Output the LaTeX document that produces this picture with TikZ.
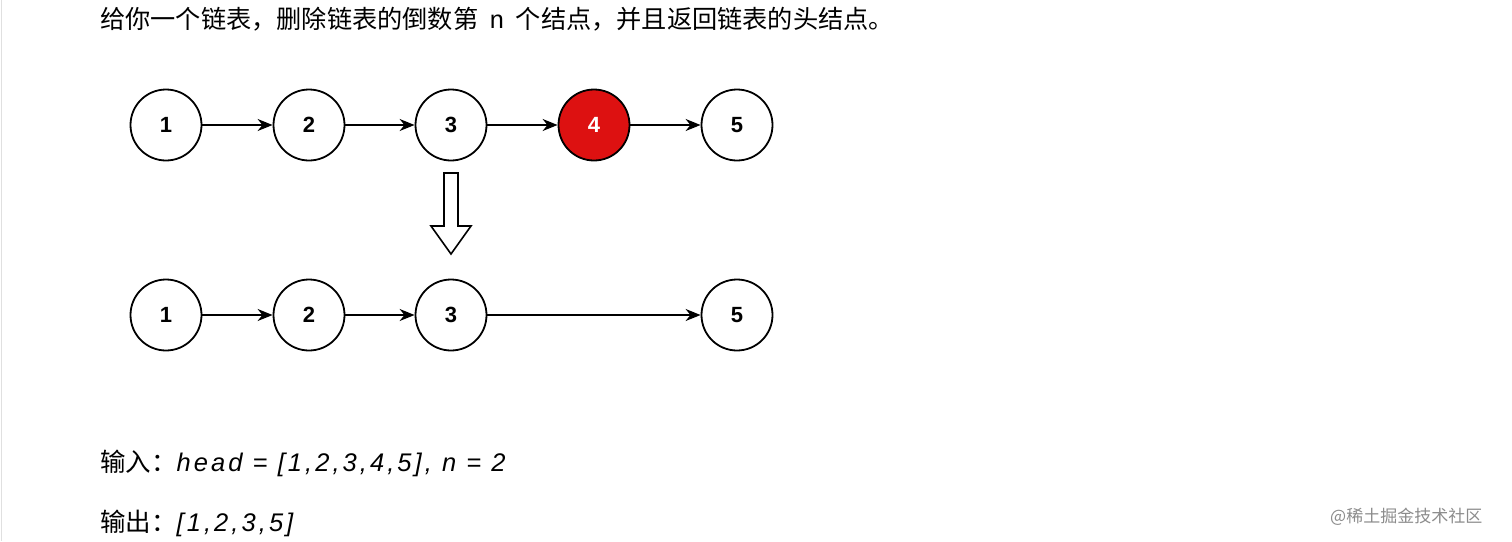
\documentclass[tikz,border=0pt]{standalone}
\usepackage{fontspec}
\setmainfont{Liberation Sans}
\newfontfamily\cjk{Noto Sans CJK SC}
\newfontfamily\monof{Liberation Mono}
\usetikzlibrary{arrows.meta}
\begin{document}
\begin{tikzpicture}[x=1pt,y=-1pt,
  lnode/.style={circle,draw=black,line width=1.8pt,fill=white,minimum size=71pt,inner sep=0pt,font=\fontsize{22}{22}\selectfont\bfseries},
  link/.style={line width=1.6pt,-{Stealth[length=15pt,width=12pt]}},
  txt/.style={anchor=base west,inner sep=0pt}]
\useasboundingbox (0,0) rectangle (1512,541);
\fill[white] (0,0) rectangle (1512,541);
\draw[black!12,line width=1pt] (1,0) -- (1,541);
\node[txt] (t) at (100,28) {\fontsize{25.2}{26}\selectfont\cjk 给你一个链表，删除链表的倒数第\ \ {\monof n}\ \ 个结点，并且返回链表的头结点。};
\foreach \i/\x in {1/166,2/309,3/451,5/737} \node[lnode] (a\i) at (\x,125) {\i};
\node[lnode,fill={rgb,255:red,221;green,17;blue,17},text=white] (a4) at (594,125) {4};
\draw[link] (a1) -- (a2);
\draw[link] (a2) -- (a3);
\draw[link] (a3) -- (a4);
\draw[link] (a4) -- (a5);
\draw[line width=1.6pt,fill=white] (444,173) -- (458,173) -- (458,226) -- (471,226) -- (451,254) -- (431,226) -- (444,226) -- cycle;
\foreach \i/\x in {1/166,2/309,3/451,5/737} \node[lnode] (b\i) at (\x,315) {\i};
\draw[link] (b1) -- (b2);
\draw[link] (b2) -- (b3);
\draw[link] (b3) -- (b5);
\node[txt] (in) at (100,471) {\fontsize{25.5}{26}\selectfont{\cjk 输入：}\textit{\addfontfeatures{LetterSpace=12}head = [1,2,3,4,5], n = 2}};
\node[txt] (out) at (100,531) {\fontsize{25.5}{26}\selectfont{\cjk 输出：}\textit{\addfontfeatures{LetterSpace=12}[1,2,3,5]}};
\node[txt,text=black!45] (wm) at (1330,522) {\fontsize{17}{17}\selectfont\cjk @稀土掘金技术社区};
\end{tikzpicture}
\end{document}
